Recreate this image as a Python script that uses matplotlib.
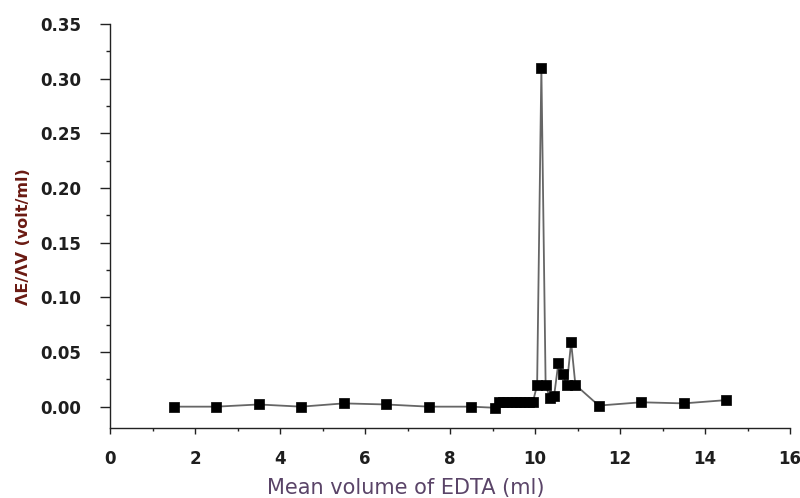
import numpy as np
import matplotlib.pyplot as plt
from matplotlib.ticker import MultipleLocator

# volume medio de EDTA (ml) e derivada dE/dV (volt/ml)
volume = [1.5, 2.5, 3.5, 4.5, 5.5, 6.5, 7.5, 8.5,
          9.05, 9.15, 9.25, 9.35, 9.45, 9.55, 9.65, 9.75, 9.85, 9.95,
          10.05, 10.15, 10.25, 10.35, 10.45, 10.55, 10.65, 10.75, 10.85, 10.95,
          11.5, 12.5, 13.5, 14.5]
dEdV = [0.000, 0.000, 0.002, 0.000, 0.003, 0.002, 0.000, 0.000,
        -0.001, 0.004, 0.004, 0.004, 0.004, 0.004, 0.004, 0.004, 0.004, 0.004,
        0.020, 0.310, 0.020, 0.008, 0.010, 0.040, 0.030, 0.020, 0.059, 0.020,
        0.001, 0.004, 0.003, 0.006]

# marcador retangular (um pouco mais largo que alto)
rect = [(-1.15, -1), (1.15, -1), (1.15, 1), (-1.15, 1), (-1.15, -1)]

fig = plt.figure(figsize=(8, 4.98), dpi=100)
ax = fig.add_axes([0.1375, 0.1406, 0.85, 0.8112])

ax.plot(volume, dEdV, color='#666666', lw=1.3, marker=rect, ms=7.6,
        mfc='black', mec='black', mew=0.5)

ax.set_xlim(0, 16)
ax.set_ylim(-0.0195, 0.35)
ax.xaxis.set_major_locator(MultipleLocator(2))
ax.xaxis.set_minor_locator(MultipleLocator(1))
ax.yaxis.set_major_locator(MultipleLocator(0.05))
ax.yaxis.set_minor_locator(MultipleLocator(0.025))
ax.yaxis.set_major_formatter(plt.FormatStrFormatter('%.2f'))

ax.spines['top'].set_visible(False)
ax.spines['right'].set_visible(False)
for s in ['left', 'bottom']:
    ax.spines[s].set_linewidth(1.0)
    ax.spines[s].set_color('#222222')

ax.tick_params(axis='y', which='major', direction='out', length=7, width=1, pad=14, colors='#222222')
ax.tick_params(axis='y', which='minor', direction='out', length=3, width=1, colors='#222222')
ax.tick_params(axis='x', which='major', direction='out', length=4, width=1, pad=12, colors='#222222')
ax.tick_params(axis='x', which='minor', direction='out', length=2, width=1, colors='#222222')
for lab in ax.get_xticklabels() + ax.get_yticklabels():
    lab.set_fontweight('bold')
    lab.set_fontsize(12)
    lab.set_color('#1e1e1e')
    lab.set_family('DejaVu Sans')

ax.set_ylabel('ΛE/ΛV (volt/ml)', fontsize=11.5, fontweight='bold', color='#6a1a12',
              family='DejaVu Sans', va='center')
ax.yaxis.set_label_coords(-0.1265, 0.473)
ax.set_xlabel('Mean volume of EDTA (ml)', fontsize=15, color='#5a4468',
              family='DejaVu Sans', va='center')
ax.xaxis.set_label_coords(0.435, -0.1485)

fig.savefig('out.png', dpi=100)
